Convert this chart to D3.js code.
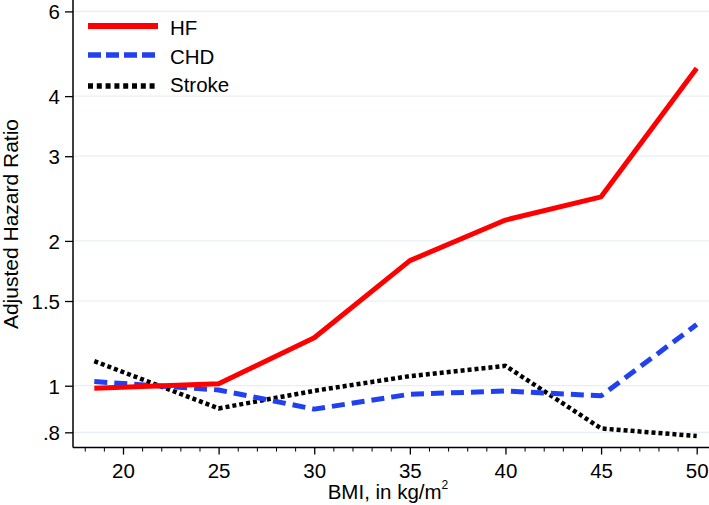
<!DOCTYPE html>
<html><head><meta charset="utf-8">
<script src="https://cdn.jsdelivr.net/npm/d3@7"></script>
<style>body{margin:0;background:#fff}svg{display:block}text{font-family:"Liberation Sans",Arial,sans-serif;fill:#000}</style>
</head><body>
<script>
const bmi = [18.5, 25, 30, 35, 40, 45, 50];
const hf = [0.988, 1.01, 1.258, 1.82, 2.21, 2.47, 4.57];
const chd = [1.02, 0.98, 0.894, 0.96, 0.975, 0.953, 1.34];
const stroke = [1.125, 0.897, 0.976, 1.047, 1.10, 0.815, 0.786];
const yTicks = [0.8, 1, 1.5, 2, 3, 4, 6];
const yTickLabels = [".8", "1", "1.5", "2", "3", "4", "6"];
const xTicks = [20, 25, 30, 35, 40, 45, 50];
const xMinorTicks = d3.range(18, 51, 1);
const seriesNames = ["HF", "CHD", "Stroke"];

const W = 709, H = 505;
const svg = d3.select("body").append("svg").attr("width", W).attr("height", H);
const axisX = 73, axisY = 447.6;
const x = d3.scaleLinear().domain([20, 50]).range([123, 696.7]);
const y = d3.scaleLog().domain([0.7436, 6.337]).range([axisY, 0]);

// gridlines
svg.append("g").selectAll("line").data(yTicks).join("line")
  .attr("x1", axisX).attr("x2", W).attr("y1", d => y(d)).attr("y2", d => y(d))
  .attr("stroke", "#e6f0f2").attr("stroke-width", 1.2);

// y axis
const ya = svg.append("g").attr("transform", `translate(${axisX},0)`)
  .call(d3.axisLeft(y).tickValues(yTicks).tickFormat((d, i) => yTickLabels[i]).tickSize(8).tickPadding(5));
ya.select(".domain").attr("d", `M0,0V${axisY}`).attr("stroke", "#000").attr("stroke-width", 1.5);
ya.selectAll(".tick line").attr("stroke", "#000").attr("stroke-width", 1.3);
ya.selectAll(".tick text").style("font-size", "20.5px").attr("dy", "0.36em");

// x axis minor
const xm = svg.append("g").attr("transform", `translate(0,${axisY})`)
  .call(d3.axisBottom(x).tickValues(xMinorTicks.filter(d => d % 5 !== 0)).tickSize(4).tickFormat(""));
xm.select(".domain").remove();
xm.selectAll(".tick line").attr("stroke", "#000").attr("stroke-width", 1);
const xa = svg.append("g").attr("transform", `translate(0,${axisY})`)
  .call(d3.axisBottom(x).tickValues(xTicks).tickSize(7));
xa.select(".domain").attr("d", `M${axisX},0H${W}`).attr("stroke", "#000").attr("stroke-width", 1.5);
xa.selectAll(".tick line").attr("stroke", "#000").attr("stroke-width", 1.3);
xa.selectAll(".tick text").style("font-size", "20.5px").attr("y", 30).attr("dy", null);

// axis titles
const xt = svg.append("text").attr("x", 388).attr("y", 498.5).attr("text-anchor", "middle").style("font-size", "20.5px");
xt.append("tspan").text("BMI, in kg/m");
xt.append("tspan").attr("dy", -10).style("font-size", "12px").text("2");
svg.append("text").attr("transform", "translate(18,224) rotate(-90)").attr("text-anchor", "middle")
  .style("font-size", "21px").text("Adjusted Hazard Ratio");

// lines
const line = d3.line().x((d, i) => x(bmi[i])).y(d => y(d));
const styles = [
  {data: hf, color: "#ff0000", dash: null, w: 5},
  {data: chd, color: "#2141f0", dash: "13,7", w: 5},
  {data: stroke, color: "#000000", dash: "4,3", w: 4.5}
];
const order = [2, 1, 0];
order.forEach(k => {
  const s = styles[k];
  svg.append("path").datum(s.data).attr("d", line).attr("fill", "none")
    .attr("stroke", s.color).attr("stroke-width", s.w).attr("stroke-dasharray", s.dash)
    .attr("stroke-linejoin", "round");
});

// legend
const legY = [26, 55, 86];
const legBase = [35, 64, 92];
const leg = svg.append("g");
seriesNames.forEach((name, i) => {
  const s = styles[i];
  leg.append("line").attr("x1", 88).attr("x2", 158).attr("y1", legY[i]).attr("y2", legY[i])
    .attr("stroke", s.color).attr("stroke-width", i === 0 ? 6 : 5.5)
    .attr("stroke-dasharray", i === 1 ? "13,5" : (i === 2 ? "5,3.8" : null));
  leg.append("text").attr("x", 170).attr("y", legBase[i]).style("font-size", "20.5px").text(name);
});
</script>
</body></html>
